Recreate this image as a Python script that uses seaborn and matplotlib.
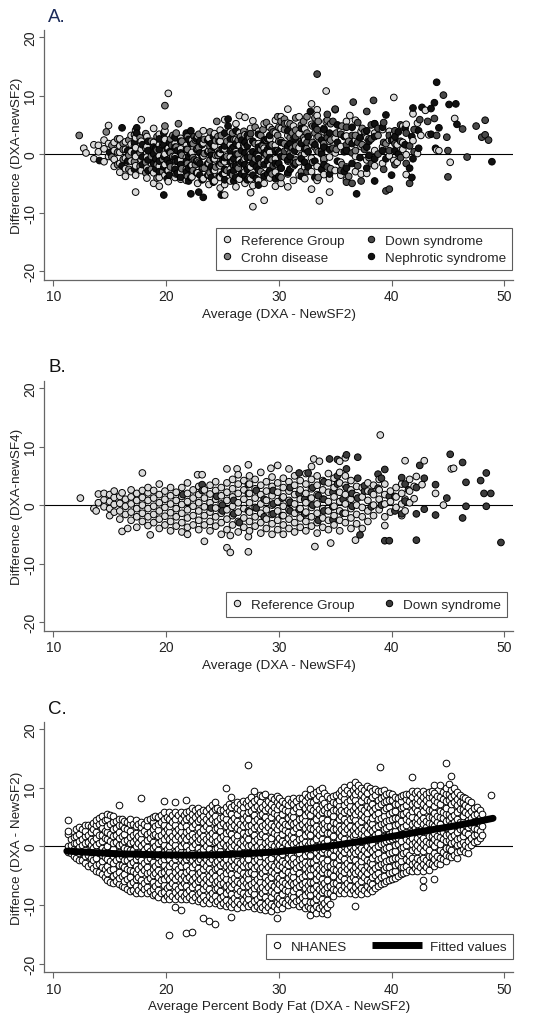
import numpy as np
import pandas as pd
import matplotlib
matplotlib.use("Agg")
import matplotlib.pyplot as plt
from matplotlib.lines import Line2D
from matplotlib.legend_handler import HandlerLine2D
import seaborn as sns

sns.set_theme(style="white")
plt.rcParams['font.family'] = ['Liberation Sans', 'DejaVu Sans']

# ---------------- data ----------------
X_TICKS = [10, 20, 30, 40, 50]
Y_TICKS = [-20, -10, 0, 10, 20]

# Panel A: columns of (average, [differences])
a_reference = [
    (12.7, [1.0]), (12.9, [0.2]), (13.6, [1.6, -0.8]), (14.0, [1.5, 0.4]), (14.5, [-1.3, 0.9, 2.4]),
    (14.9, [4.9, -0.4, 1.8]), (15.4, [-2.1, -0.9, 0.6, 2.0]), (15.9, [-3.1, -1.6, 0.3, 1.4, 2.6]),
    (16.4, [-3.8, -2.5, -0.7, 0.8, 2.1]), (16.9, [-3.0, -1.2, 0.4, 1.7, 3.2]),
    (17.3, [-6.5, -3.6, -2.0, -0.4, 1.1, 2.8, 4.1]), (17.8, [-2.8, -1.0, 0.8, 2.2, 5.9]),
    (18.3, [-4.1, -2.4, -0.5, 1.3, 3.0]), (18.9, [-5.0, -3.2, -1.6, 0.2, 2.0, 4.4]),
    (19.4, [-5.5, -4.0, -2.1, -0.3, 1.6, 3.4]), (19.9, [-3.6, -1.8, 0.0, 2.5, 4.0]),
    (20.2, [10.4, -4.7, -2.8, 1.0]), (20.8, [-4.0, -2.2, -0.4, 1.8, 3.0]),
    (21.3, [-4.3, -3.1, -1.0, 0.9, 2.7]), (21.8, [-4.5, -2.6, -0.6, 1.5, 3.3]),
    (22.3, [-3.9, -1.9, 0.3, 2.4]), (22.8, [-5.0, -3.2, -1.2, 1.0, 3.1]),
    (23.3, [-4.2, -2.4, -0.3, 1.9, 4.0]), (23.8, [-5.2, -3.6, -1.6, 0.6, 2.7]),
    (24.3, [-4.6, -2.8, -0.8, 1.4, 3.5]), (24.8, [-5.8, -4.0, -2.0, 0.1, 2.2, 4.1]),
    (25.2, [-7.0, -5.2, -3.3, -1.3, 0.9, 5.9]), (25.7, [-4.6, -2.6, -0.5, 1.6, 3.8]),
    (26.2, [-5.6, -3.8, -1.8, 0.4, 2.5, 5.2]), (26.5, [6.6, -4.3, -1.0, 1.5, 3.6]),
    (27.0, [6.3, -5.0, -3.0, -0.8, 1.3, 3.3]), (27.5, [-6.6, -4.2, -2.2, 0.0, 2.1, 4.4]),
    (27.7, [-9.0, -5.4, -1.5, 5.7]), (28.2, [-4.5, -2.7, -0.4, 1.8, 3.9]),
    (28.7, [-7.9, -5.0, -3.4, -1.2, 1.0, 5.2]), (29.2, [-4.1, -2.0, 0.3, 2.6, 4.6]),
    (29.7, [-5.5, -3.1, -0.8, 1.5, 3.6, 5.8]), (30.2, [-5.0, -2.4, 0.0, 2.3, 4.4, 6.4]),
    (30.8, [7.7, -5.6, -3.4, -1.2, 1.0, 3.2, 5.3]), (31.3, [-4.5, -2.0, 0.4, 2.6, 4.8]),
    (31.8, [-3.6, -1.3, 1.1, 3.5, 6.4]), (32.3, [-4.2, -2.2, 0.1, 2.4, 4.3]),
    (32.9, [8.6, -6.0, -3.0, -0.7, 1.6, 5.1]), (33.4, [7.6, -4.5, -2.1, 0.6, 2.8, 6.6]),
    (33.6, [-8.0]), (34.0, [-3.5, -1.1, 1.4, 3.8]), (34.2, [10.8, 5.6]),
    (34.5, [-6.5, -4.2, -0.5, 2.2]), (35.0, [-2.8, 0.2, 2.7, 7.6]), (35.5, [-3.6, -1.4, 1.3, 4.0]),
    (36.0, [-4.4, -2.2, 0.8, 3.1, 5.6]), (36.3, [6.6]), (36.8, [-3.0, -0.4, 2.4, 5.8]),
    (37.3, [-3.4, 1.3, 3.9]), (37.8, [-3.3, -1.0, 2.8]), (38.5, [-2.0, 0.6, 3.6, 5.2]),
    (39.2, [-1.6, 1.2, 4.2]), (39.8, [-0.3, 2.4, 3.9]), (40.2, [9.7, -1.1, 3.4]),
    (40.5, [-1.4, 1.6]), (41.0, [0.8, 4.8, 2.0]), (41.3, [-3.5, -0.1, 5.1]), (41.9, [6.9, 2.3]),
    (42.3, [5.3, 0.1]), (42.6, [3.2]), (43.0, [7.5]), (43.3, [3.3]), (44.0, [0.7]),
    (44.2, [0.6]), (45.2, [-1.4]), (45.6, [6.1]),
]
a_crohn = [
    (12.3, [3.2]), (14.7, [3.8]), (15.2, [1.5, -0.5]), (15.7, [2.6, 0.3, -1.8]), (16.2, [1.8, -0.9, 0.8]),
    (16.7, [2.4, -0.2, -2.6]), (17.2, [1.4, -1.3, 3.3]), (17.7, [0.2, 2.8, -2.1]),
    (18.2, [3.5, 1.0, -1.4, -3.2]), (18.7, [2.2, -0.4, -2.6]), (19.2, [3.0, 0.7, -1.8, -4.1]),
    (19.7, [1.6, -0.9, -3.0]), (19.9, [8.3, 4.8]), (20.4, [2.6, 0.2, -2.2]), (20.6, [3.2, -0.4]),
    (20.9, [3.6, 1.2, -1.2, -3.4]), (21.1, [5.2]), (21.4, [2.2, -0.2, -2.5]),
    (21.9, [3.0, 0.8, -1.6, -3.8]), (22.4, [1.8, -0.6, -2.8]), (22.6, [2.4, -1.8]),
    (22.9, [3.4, 1.1, -1.4]), (23.4, [2.5, 0.1, -2.4]), (23.9, [3.8, 1.3, -1.0, -3.2]),
    (24.4, [2.3, -0.2, -2.2]), (24.5, [5.6]), (24.6, [3.0, -0.2]), (24.9, [3.2, 0.8, -1.6]),
    (25.4, [2.2, -0.4, -2.8]), (25.9, [3.6, 1.1, -1.2, -3.6]), (26.4, [2.4, 0.0, -2.4]),
    (26.6, [3.0, -1.6]), (26.9, [3.9, 1.5, -1.0]), (27.4, [2.8, 0.3, -2.0, -4.0]),
    (27.9, [4.6, 1.8, -0.8]), (28.4, [3.2, 0.8, -1.6, -3.0]), (28.6, [4.2, 1.4]),
    (28.9, [5.4, 2.4, 0.0]), (29.4, [4.2, 1.6, -1.0, -3.4]), (29.9, [6.4, 3.2, 0.6, -1.8]),
    (30.0, [4.6, 2.2]), (30.2, [5.6, -4.0]), (30.5, [6.0, 4.2, 1.8, -0.5]),
    (31.0, [5.2, 2.8, 0.2, -2.6]), (31.2, [3.6, 1.0]), (31.5, [6.2, 4.1, 1.4, -1.0]),
    (32.0, [5.0, 2.2, -0.2, -3.0]), (32.2, [5.6, 2.8]), (32.5, [6.4, 3.6, 1.0]),
    (33.0, [4.8, 2.0, -1.4]), (33.2, [6.2, 3.6, 1.2]), (33.5, [5.6, 3.0, 0.4, -4.0]),
    (34.0, [4.4, 1.8, -0.8]), (34.3, [3.2, 5.8]), (34.6, [5.2, 2.4, -2.5]), (35.1, [3.6, 0.8]),
    (35.6, [4.8, -1.8]), (36.2, [2.2, -3.8]), (36.8, [3.2, 0.6]), (37.4, [1.6, 4.4]),
    (38.0, [2.6, -0.6]), (38.8, [3.2]), (39.5, [1.8]), (40.2, [2.4]),
]
a_down = [
    (20.5, [1.5]), (22.5, [3.0, -1.0]), (24.0, [0.5]), (26.0, [2.5, -2.0]), (27.5, [3.5, -0.5]),
    (28.5, [1.5]), (29.5, [-2.0, 3.8]), (30.5, [0.5, 5.2]), (31.5, [-1.5, 3.0]), (32.5, [2.0, -3.0]),
    (33.4, [13.7, 4.2]), (33.8, [0.5]), (34.3, [-2.2, 2.8, 6.8]), (34.8, [5.6, 1.0]), (35.0, [7.7]),
    (35.5, [-2.8, 3.4]), (36.0, [1.6, 4.6, -4.8]), (36.5, [-5.0, 0.2, 3.2]), (36.6, [8.9]),
    (37.0, [-2.0, 2.0, 5.4]), (37.3, [-4.6]), (37.6, [0.8, 3.8]), (37.8, [7.3]),
    (38.2, [-1.6, 2.6, 5.0]), (38.4, [9.2]), (38.8, [0.0, 4.4]), (39.3, [-2.6, 2.0, 5.4]),
    (39.5, [-6.3]), (39.8, [-6.0, 3.2, 0.6]), (40.3, [-1.8, 1.8, 4.0]), (40.8, [2.2, -0.6, 5.0]),
    (41.3, [3.6, -1.6]), (41.6, [-5.0, 1.4]), (42.0, [0.4, 4.2]), (42.5, [5.9]), (43.2, [5.6]),
    (43.8, [6.1]), (44.0, [3.2]), (44.6, [10.1]), (44.9, [2.9]), (45.0, [-3.9, 0.6]), (46.3, [4.3]),
    (46.7, [-0.5]), (47.5, [4.8]), (48.0, [2.9]), (48.3, [5.8, 3.3]), (48.6, [2.4]),
]
a_nephrotic = [
    (14.1, [-1.1]), (15.0, [0.3]), (16.1, [4.5, -2.0]), (16.6, [-1.2, 0.6]), (17.2, [-2.6, 0.2, 2.0]),
    (17.4, [4.5, 3.6]), (17.9, [-1.8, -0.5, 1.6]), (18.4, [-2.8, -1.0, 0.6, 2.2]),
    (18.9, [-1.6, 0.0, 1.2]), (19.1, [-2.5, -0.8, 1.0]), (19.4, [-3.0, -1.2, 0.8, 2.6]),
    (19.8, [-7.0, -2.2, -0.4, 1.6, 3.6]), (20.1, [-4.2, -2.8, -1.0, 0.9]),
    (20.3, [-3.6, -1.6, 0.4, 2.0]), (20.8, [-2.6, -0.8, 1.2, 2.8]), (21.0, [-3.3, -1.2, 0.6]),
    (21.3, [-4.0, -1.8, 0.2, 2.2]), (21.8, [-3.0, -1.2, 0.8, 3.6]), (22.0, [-4.6, -2.4, -0.4, 2.5]),
    (22.2, [-6.8, -4.0, -2.0, 0.0, 1.8, 4.0]), (22.7, [-3.2, -1.2, 0.8, 2.6]), (22.9, [-6.5]),
    (23.0, [-3.6, -1.6, 0.2, 2.2]), (23.2, [-4.4, -2.4, -0.4, 1.6]), (23.3, [-7.4]),
    (23.7, [-3.6, -1.6, 0.4, 2.4]), (24.0, [-4.0, -2.2, -0.2, 1.8]),
    (24.2, [-4.8, -2.8, -0.8, 1.2, 3.0]), (24.7, [-3.8, -1.8, 0.2, 2.2]), (24.9, [-7.0]),
    (25.0, [-3.4, -1.0, 0.9]), (25.2, [-4.4, -2.6, -0.6, 1.4, 3.6]), (25.5, [6.0, 4.8]),
    (25.7, [-3.2, -1.4, 0.6, 2.6]), (26.0, [-4.6, -2.8, -0.8, 1.2]),
    (26.2, [-4.0, -2.0, 0.0, 1.8, 4.0]), (26.7, [-3.4, -1.4, 0.6, 2.4]),
    (27.0, [-3.8, -1.8, 0.2, 2.0]), (27.2, [-4.4, -2.6, -0.6, 1.4, 3.2]),
    (27.7, [-3.6, -1.6, 0.4, 2.2]), (28.0, [-4.2, -2.2, 0.0]), (28.2, [-5.3, -2.8, -0.8, 1.2, 3.4]),
    (28.7, [-3.8, -1.8, 0.2, 2.4]), (29.0, [-3.4, -1.2, 0.8, 2.6]), (29.2, [-2.8, -0.6, 1.4, 3.2]),
    (29.7, [-4.2, -1.6, 0.6]), (30.0, [-3.8, -1.6, 0.4]), (30.2, [-2.4, -0.4, 2.0]),
    (30.8, [-3.2, -1.0, 1.4, 4.0]), (31.0, [-2.6, -0.4, 1.8]), (31.4, [-1.8, 0.6, 2.6]),
    (32.0, [-3.8, -0.8, 1.8, 4.4]), (32.3, [-1.4, 0.9]), (32.6, [-2.2, 0.4, 3.0]), (32.8, [7.3]),
    (33.2, [-4.0, -1.2, 1.6, 4.8]), (33.8, [-2.6, 0.0, 2.4]), (34.0, [-1.8, 1.2, 4.2]),
    (34.5, [-3.4, 0.8, 3.6]), (35.2, [-1.2, 2.0, 5.0]), (35.8, [-3.0, 0.4, 3.0]),
    (36.0, [-2.4, 0.6]), (36.5, [-1.6, 1.8, 4.6]), (36.9, [-6.8]), (37.2, [-0.6, 2.8]),
    (37.8, [-2.4, 1.2, 4.0]), (38.0, [-0.2, 2.2]), (38.5, [-4.6, -0.8, 3.0, 5.2]),
    (39.2, [0.6, 4.6]), (39.5, [-0.8, 6.7]), (40.0, [-3.6, 2.4]), (40.3, [0.6, 3.0]),
    (40.6, [0.0, 3.8]), (41.2, [1.6, 4.4]), (41.6, [-2.4]), (41.8, [-4.0, 3.0]),
    (41.9, [-0.8, 7.9]), (42.4, [4.0, 1.0]), (42.7, [8.0]), (43.5, [3.4, 7.8]), (43.8, [8.8]),
    (43.9, [1.0]), (44.0, [12.3]), (44.2, [4.5]), (45.1, [8.5]), (45.7, [8.6]), (45.8, [5.1]),
    (48.9, [-1.3]),
]

# Panel B
b_reference = [
    (12.4, [1.2]), (13.6, [-0.6]), (13.8, [-1.0]), (14.0, [0.4, 1.9]), (14.5, [-0.3, 0.9, 2.0]),
    (15.0, [-1.8, -0.6, 0.6, 1.8]), (15.4, [-1.2, 0.1, 1.3, 2.4]), (15.9, [-2.4, -1.0, 0.3, 1.5]),
    (16.1, [-4.5, 2.1]), (16.4, [-1.6, -0.2, 1.0]), (16.6, [-4.0]),
    (16.9, [-2.6, -1.2, 0.2, 1.4, 2.6]), (17.4, [-3.8, -2.0, -0.6, 0.8, 2.0]),
    (17.9, [5.5, -2.8, -1.4, 0.0, 1.3, 2.5]), (18.4, [-3.5, -2.0, -0.6, 0.8, 2.1, 3.0]),
    (18.6, [-5.1]), (18.9, [-3.0, -1.6, -0.2, 1.2, 2.5]), (19.4, [-4.0, -2.4, -1.0, 0.4, 1.8, 3.6]),
    (19.9, [-3.4, -1.9, -0.4, 1.0, 2.4]), (20.4, [-4.4, -2.8, -1.3, 0.2, 1.6, 3.0]),
    (20.9, [-3.6, -2.0, -0.6, 0.8, 2.2]), (21.4, [-4.6, -3.0, -1.4, 0.1, 1.5, 3.0]),
    (21.9, [-5.0, -3.8, -2.2, -0.8, 0.6, 2.0, 3.8]), (22.4, [-3.4, -1.8, -0.2, 1.2, 2.6]),
    (22.8, [5.2]), (22.9, [-4.2, -2.6, -1.0, 0.4, 1.8, 3.2]), (23.2, [5.2]),
    (23.4, [-6.2, -3.4, -1.8, -0.3, 1.2, 2.6]), (23.9, [-4.4, -2.8, -1.2, 0.4, 1.9, 3.4]),
    (24.4, [-3.6, -2.0, -0.5, 1.0, 2.5, 4.0]), (24.9, [-5.0, -3.0, -1.4, 0.2, 1.6, 3.0]),
    (25.4, [-7.3, -4.2, -2.4, -0.8, 0.8, 2.2, 3.8, 6.2]), (25.7, [-8.1, -5.2]),
    (25.9, [-3.4, -1.8, -0.2, 1.4, 2.8, 4.4]), (26.3, [6.2]),
    (26.4, [-4.6, -2.8, -1.2, 0.4, 2.0, 3.6, 5.2]), (26.9, [-3.8, -2.2, -0.6, 1.0, 2.6, 4.2]),
    (27.3, [-8.0, -5.4, 6.9]), (27.4, [-4.4, -2.8, -1.2, 0.4, 2.0, 3.6, 5.0]),
    (27.9, [-3.6, -2.0, -0.4, 1.2, 2.8, 4.4]), (28.4, [-4.8, -3.0, -1.4, 0.2, 1.8, 3.4, 5.6]),
    (28.9, [-4.0, -2.4, -0.8, 0.8, 2.4, 4.0]), (29.3, [6.3]),
    (29.4, [-5.0, -3.2, -1.6, 0.0, 1.6, 3.2, 4.8]), (29.9, [-4.2, -2.6, -1.0, 0.6, 2.2, 3.8, 6.8]),
    (30.4, [-5.0, -3.4, -1.8, -0.2, 1.4, 3.0, 4.6]), (30.9, [-4.0, -2.4, -0.8, 0.8, 2.4, 4.0, 6.2]),
    (31.4, [-4.6, -3.0, -1.4, 0.2, 1.8, 3.4, 5.0]), (31.9, [-3.8, -2.2, -0.6, 1.0, 2.6, 4.2]),
    (32.4, [-4.4, -2.8, -1.2, 0.4, 2.0, 3.6, 5.4]), (32.9, [-3.6, -2.0, -0.4, 1.2, 2.8, 4.4, 6.6]),
    (33.1, [7.9]), (33.2, [-7.1]), (33.4, [-4.8, -3.0, -1.4, 0.2, 1.8, 3.4, 5.0]), (33.6, [7.5]),
    (33.9, [-3.8, -2.2, -0.6, 1.0, 2.6, 4.2]), (34.4, [-4.2, -2.6, -1.0, 0.6, 2.2, 3.8, 5.4]),
    (34.6, [-6.5]), (34.9, [-3.4, -1.8, -0.2, 1.4, 3.0, 4.6]),
    (35.4, [-4.4, -2.6, -1.0, 0.6, 2.2, 3.8, 5.6, 7.5]), (35.9, [-3.0, -1.4, 0.2, 1.8, 3.4, 5.0, 8.1]),
    (36.4, [-4.0, -2.2, -0.6, 1.0, 2.6, 4.2]), (36.8, [-6.0]), (36.9, [-3.2, -1.6, 0.0, 1.6, 3.2]),
    (37.4, [-4.0, -2.0, -0.4, 1.4, 3.0]), (37.9, [-2.8, -1.0, 0.8, 2.4, 3.8]),
    (38.4, [-1.8, 0.0, 1.8, 3.4]), (38.9, [-0.8, 1.0, 2.6, 4.4]), (39.0, [12.0]),
    (39.4, [-3.5, -2.0, 0.2, 1.8, 3.6]), (39.9, [-1.2, 0.6, 2.4]), (40.4, [-0.4, 1.4, 3.0]),
    (40.9, [-1.8, 0.2, 2.0, 3.6]), (41.2, [7.6, -1.0, 1.0]), (41.6, [0.4, 2.4, 4.4]),
    (42.0, [1.1, 3.2]), (42.2, [4.9]), (42.7, [3.5]), (42.9, [7.6]), (43.9, [2.0]), (44.6, [0.0]),
    (45.3, [6.2]), (45.5, [6.3]),
]
b_down = [
    (21.5, [1.8]), (23.2, [3.5, 2.5]), (24.0, [-0.5]), (24.5, [1.5]), (25.0, [0.0, -1.0]),
    (26.0, [0.8, -1.5]), (26.5, [-3.0]), (27.3, [3.5, 2.0, -1.0]), (28.0, [2.5, -0.5]),
    (28.7, [1.0, -2.0]), (29.5, [2.5, 0.2, -1.5]), (30.3, [1.2, -1.8]), (31.0, [3.0, 0.5, -1.0]),
    (31.8, [2.0, -0.8, 5.5]), (32.3, [1.0, -1.5]), (32.6, [5.5]), (33.0, [3.0, 0.0]),
    (33.5, [1.6, -2.6]), (34.0, [4.0, 1.0, -1.0]), (34.5, [7.9]), (34.8, [2.2, -0.3, -2.5]),
    (35.2, [7.8, 5.0, 3.6]), (35.7, [1.0, -1.4]), (36.0, [8.6, 6.2, 3.0]), (36.5, [-0.2, 2.0]),
    (37.0, [8.2, 4.6, 1.2]), (37.2, [-5.1]), (37.6, [2.4, 3.3]), (38.2, [2.2, -0.3]),
    (38.8, [5.3, 2.9]), (39.1, [0.0, 4.6]), (39.4, [6.1, -6.1]), (39.8, [-6.1, 1.5]),
    (40.3, [1.5, -1.0]), (40.9, [4.7, -1.5]), (41.2, [3.6, 0.7]), (41.5, [2.6]),
    (42.2, [-1.5, -6.0, 3.0]), (42.5, [6.8]), (42.9, [4.6, -0.7]), (43.9, [3.5, -1.7]),
    (44.9, [1.2]), (45.2, [8.7]), (46.3, [7.3, -2.2]), (46.6, [-0.2, 3.9]), (47.9, [4.2]),
    (48.2, [2.0]), (48.4, [-0.2, 5.5]), (48.8, [2.0]), (49.7, [-6.4]),
]

# Panel C: NHANES (main columns)
c_nhanes = [
    (11.3, [-0.9, 0.0, 2.1, 2.6, 4.5]), (11.8, [-1.6, -0.5, 0.6, 1.6]),
    (12.3, [-2.4, -1.2, -0.1, 1.0, 2.2, 3.3]), (12.8, [-2.8, -1.7, -0.6, 0.6, 1.7, 2.7, 3.6]),
    (13.3, [-3.0, -2.0, -0.9, 0.2, 1.3, 2.5, 3.5]),
    (13.8, [-4.2, -3.1, -2.0, -0.8, 0.3, 1.4, 2.5, 3.6, 4.5]),
    (14.3, [-4.8, -3.6, -2.5, -1.4, -0.3, 0.9, 2.0, 3.1, 4.2, 5.2]),
    (14.8, [-5.7, -4.5, -3.3, -2.2, -1.0, 0.1, 1.2, 2.4, 3.5, 4.6, 5.6]),
    (15.3, [-6.3, -5.1, -3.9, -2.8, -1.7, -0.5, 0.6, 1.8, 2.9, 4.1, 5.2]),
    (15.8, [-6.5, -5.4, -4.3, -3.1, -2.0, -0.9, 0.2, 1.4, 2.5, 3.6, 4.7, 7.1]),
    (16.3, [-7.0, -5.9, -4.7, -3.6, -2.4, -1.3, -0.2, 0.9, 2.1, 3.2, 4.4]),
    (16.8, [-7.6, -6.4, -5.3, -4.1, -3.0, -1.8, -0.7, 0.5, 1.6, 2.7, 3.8, 4.7]),
    (17.3, [-7.9, -6.8, -5.6, -4.5, -3.3, -2.2, -1.1, 0.1, 1.2, 2.3, 3.4, 4.5]),
    (17.8, [-7.9, -6.8, -5.7, -4.5, -3.4, -2.3, -1.1, 0.0, 1.2, 2.3, 3.3, 4.1, 8.2]),
    (18.3, [-8.0, -6.9, -5.8, -4.6, -3.5, -2.4, -1.2, -0.1, 1.1, 2.2, 3.4, 4.5]),
    (18.8, [-8.3, -7.2, -6.0, -4.9, -3.8, -2.6, -1.5, -0.3, 0.8, 1.9, 3.0, 4.1, 5.0]),
    (19.3, [-8.6, -7.4, -6.3, -5.2, -4.0, -2.9, -1.8, -0.6, 0.5, 1.7, 2.8, 3.9, 5.1]),
    (19.8, [-8.9, -7.8, -6.6, -5.5, -4.3, -3.2, -2.1, -0.9, 0.2, 1.3, 2.5, 3.6, 4.7, 5.8, 7.7]),
    (20.3, [-15.2, -9.0, -7.9, -6.7, -5.6, -4.4, -3.3, -2.2, -1.0, 0.1, 1.3, 2.4, 3.5, 4.7, 5.8]),
    (20.8, [-10.3, -9.0, -7.8, -6.7, -5.5, -4.4, -3.3, -2.1, -1.0, 0.2, 1.3, 2.4, 3.6, 4.7, 5.8, 7.6]),
    (21.3, [-10.8, -9.0, -7.9, -6.7, -5.6, -4.5, -3.3, -2.2, -1.0, 0.1, 1.2, 2.4, 3.5, 4.7, 5.9]),
    (21.8, [-14.8, -9.0, -7.9, -6.7, -5.6, -4.4, -3.3, -2.2, -1.0, 0.1, 1.3, 2.4, 3.5, 4.7, 5.8, 8.0]),
    (22.3, [-14.6, -9.2, -8.1, -6.9, -5.8, -4.6, -3.5, -2.4, -1.2, -0.1, 1.1, 2.2, 3.3, 4.5, 5.6, 6.5]),
    (22.8, [-9.4, -8.2, -7.1, -5.9, -4.8, -3.7, -2.5, -1.4, -0.2, 0.9, 2.0, 3.2, 4.3, 5.5, 6.5]),
    (23.3, [-12.3, -9.6, -8.5, -7.3, -6.2, -5.0, -3.9, -2.8, -1.6, -0.5, 0.7, 1.8, 2.9, 4.1, 5.2, 6.3]),
    (23.8, [-12.8, -9.6, -8.4, -7.3, -6.1, -5.0, -3.9, -2.7, -1.6, -0.4, 0.7, 1.8, 3.0, 4.1, 5.3, 6.5]),
    (24.3, [-13.3, -9.6, -8.5, -7.3, -6.2, -5.0, -3.9, -2.8, -1.6, -0.5, 0.7, 1.8, 2.9, 4.1, 5.2, 6.4, 7.6]),
    (24.8, [-10.0, -8.8, -7.7, -6.5, -5.4, -4.3, -3.1, -2.0, -0.8, 0.3, 1.4, 2.6, 3.7, 4.9, 6.2]),
    (25.3, [-10.2, -9.1, -7.9, -6.8, -5.6, -4.5, -3.4, -2.2, -1.1, 0.1, 1.2, 2.3, 3.5, 4.6, 5.7, 6.8, 9.9]),
    (25.8, [-12.1, -10.4, -9.3, -8.1, -7.0, -5.8, -4.7, -3.6, -2.4, -1.3, -0.1, 1.0, 2.1, 3.3, 4.4, 5.6, 6.7, 8.4]),
    (26.3, [-10.5, -9.4, -8.2, -7.1, -5.9, -4.8, -3.7, -2.5, -1.4, -0.2, 0.9, 2.0, 3.2, 4.3, 5.5, 6.6, 7.6]),
    (26.8, [-10.3, -9.1, -8.0, -6.8, -5.7, -4.6, -3.4, -2.3, -1.1, 0.0, 1.1, 2.3, 3.4, 4.6, 5.7, 6.8, 7.8]),
    (27.3, [-10.2, -9.0, -7.9, -6.8, -5.6, -4.5, -3.3, -2.2, -1.1, 0.1, 1.2, 2.4, 3.5, 4.6, 5.8, 6.9, 8.0, 13.9]),
    (27.8, [-10.5, -9.4, -8.2, -7.1, -6.0, -4.8, -3.7, -2.5, -1.4, -0.3, 0.9, 2.0, 3.2, 4.3, 5.4, 6.6, 7.7, 9.4]),
    (28.3, [-10.7, -9.6, -8.4, -7.3, -6.1, -5.0, -3.9, -2.7, -1.6, -0.4, 0.7, 1.8, 3.0, 4.1, 5.3, 6.4, 7.5, 8.7]),
    (28.8, [-10.9, -9.8, -8.6, -7.5, -6.3, -5.2, -4.1, -2.9, -1.8, -0.6, 0.5, 1.6, 2.8, 3.9, 5.1, 6.2, 7.3, 8.9]),
    (29.3, [-11.0, -9.9, -8.7, -7.6, -6.4, -5.3, -4.2, -3.0, -1.9, -0.7, 0.4, 1.5, 2.7, 3.8, 5.0, 6.1, 7.2, 8.4]),
    (29.8, [-12.2, -10.7, -9.5, -8.4, -7.2, -6.1, -5.0, -3.8, -2.7, -1.5, -0.4, 0.7, 1.9, 3.0, 4.2, 5.3, 6.4, 7.6, 8.6]),
    (30.3, [-10.5, -9.3, -8.2, -7.0, -5.9, -4.8, -3.6, -2.5, -1.3, -0.2, 0.9, 2.1, 3.2, 4.4, 5.5, 6.6, 7.8]),
    (30.8, [-10.0, -8.9, -7.7, -6.6, -5.4, -4.3, -3.2, -2.0, -0.9, 0.3, 1.4, 2.5, 3.7, 4.8, 6.0, 7.1, 8.1]),
    (31.3, [-9.9, -8.7, -7.6, -6.4, -5.3, -4.2, -3.0, -1.9, -0.7, 0.4, 1.5, 2.7, 3.8, 5.0, 6.1, 7.2, 8.3]),
    (31.8, [-10.2, -9.1, -7.9, -6.8, -5.6, -4.5, -3.4, -2.2, -1.1, 0.1, 1.2, 2.3, 3.5, 4.6, 5.8, 6.9, 8.3]),
    (32.3, [-10.6, -9.4, -8.3, -7.1, -6.0, -4.9, -3.7, -2.6, -1.4, -0.3, 0.8, 2.0, 3.1, 4.3, 5.4, 6.5, 7.7, 8.9]),
    (32.8, [-11.8, -10.6, -9.5, -8.3, -7.2, -6.1, -4.9, -3.8, -2.6, -1.5, -0.4, 0.8, 1.9, 3.1, 4.2, 5.3, 6.5, 7.6, 8.7, 9.8]),
    (33.3, [-11.3, -10.2, -9.0, -7.9, -6.7, -5.6, -4.5, -3.3, -2.2, -1.0, 0.1, 1.2, 2.4, 3.5, 4.7, 5.8, 6.9, 8.1, 9.3]),
    (33.8, [-11.3, -10.1, -9.0, -7.8, -6.7, -5.6, -4.4, -3.3, -2.1, -1.0, 0.1, 1.3, 2.4, 3.6, 4.7, 5.8, 7.0, 8.1, 10.0]),
    (34.3, [-11.5, -10.3, -9.1, -8.0, -6.9, -5.7, -4.6, -3.4, -2.3, -1.2, 0.0, 1.1, 2.3, 3.4, 4.5, 5.7, 6.8, 8.6]),
    (34.8, [-8.5, -7.3, -6.2, -5.1, -3.9, -2.8, -1.6, -0.5, 0.6, 1.8, 2.9, 4.1, 5.2, 6.3, 7.5, 8.6]),
    (35.3, [-7.9, -6.8, -5.6, -4.5, -3.3, -2.2, -1.1, 0.1, 1.2, 2.4, 3.5, 4.6, 5.8, 6.9, 8.0, 9.2]),
    (35.8, [-7.9, -6.7, -5.6, -4.4, -3.3, -2.2, -1.0, 0.1, 1.3, 2.4, 3.5, 4.7, 5.8, 7.0, 8.1, 9.2, 10.2]),
    (36.3, [-7.9, -6.8, -5.6, -4.5, -3.4, -2.2, -1.1, 0.1, 1.2, 2.3, 3.5, 4.6, 5.8, 6.9, 8.0, 9.2, 10.4]),
    (36.8, [-10.1, -8.1, -6.9, -5.8, -4.6, -3.5, -2.4, -1.2, -0.1, 1.1, 2.2, 3.3, 4.5, 5.6, 6.8, 7.9, 9.0, 10.2, 11.0]),
    (37.3, [-8.2, -7.1, -5.9, -4.8, -3.6, -2.5, -1.4, -0.2, 0.9, 2.1, 3.2, 4.3, 5.5, 6.6, 7.8, 8.9, 10.0]),
    (37.8, [-8.0, -6.8, -5.7, -4.5, -3.4, -2.3, -1.1, 0.0, 1.2, 2.3, 3.4, 4.6, 5.7, 6.9, 8.0, 9.1, 10.3]),
    (38.3, [-7.6, -6.5, -5.3, -4.2, -3.0, -1.9, -0.8, 0.4, 1.5, 2.7, 3.8, 4.9, 6.1, 7.2, 8.4, 9.5]),
    (38.8, [-6.8, -5.7, -4.5, -3.4, -2.2, -1.1, 0.0, 1.2, 2.3, 3.5, 4.6, 5.7, 6.9, 8.0, 9.4]),
    (39.0, [13.6]),
    (39.3, [-6.2, -5.1, -3.9, -2.8, -1.7, -0.5, 0.6, 1.8, 2.9, 4.0, 5.2, 6.3, 7.5, 8.6, 9.6]),
    (39.8, [-5.8, -4.6, -3.5, -2.3, -1.2, -0.1, 1.1, 2.2, 3.4, 4.5, 5.6, 6.8, 7.9, 9.1]),
    (40.3, [-5.4, -4.2, -3.1, -2.0, -0.8, 0.3, 1.5, 2.6, 3.7, 4.9, 6.0, 7.2, 8.5]),
    (40.8, [-4.8, -3.6, -2.5, -1.4, -0.2, 0.9, 2.1, 3.2, 4.3, 5.5, 6.6, 7.8, 8.6]),
    (41.3, [-4.4, -3.3, -2.1, -1.0, 0.2, 1.3, 2.4, 3.6, 4.7, 5.9, 7.0, 8.1, 9.0]),
    (41.8, [-4.2, -3.0, -1.9, -0.7, 0.4, 1.5, 2.7, 3.8, 5.0, 6.1, 7.2, 8.4, 9.5, 11.8]),
    (42.3, [-4.2, -3.1, -1.9, -0.8, 0.3, 1.5, 2.6, 3.8, 4.9, 6.0, 7.2, 8.3, 9.5]),
    (42.8, [-6.9, -5.8, -4.2, -3.0, -1.9, -0.8, 0.4, 1.5, 2.7, 3.8, 4.9, 6.1, 7.2, 8.4, 9.4]),
    (43.3, [-4.0, -2.9, -1.7, -0.6, 0.6, 1.7, 2.8, 4.0, 5.1, 6.3, 7.4, 8.5, 9.3]),
    (43.8, [-5.6, -3.4, -2.2, -1.1, 0.0, 1.2, 2.3, 3.5, 4.6, 5.7, 6.9, 8.0, 9.1, 10.4]),
    (44.3, [-3.0, -1.9, -0.7, 0.4, 1.6, 2.7, 3.8, 5.0, 6.1, 7.3, 8.4, 10.4]),
    (44.8, [-2.5, -1.4, -0.2, 0.9, 2.0, 3.2, 4.3, 5.5, 6.6, 7.7, 8.9, 10.0, 14.2]),
    (45.3, [-1.8, -0.6, 0.5, 1.6, 2.8, 3.9, 5.1, 6.2, 7.3, 8.5, 9.6, 12.0]),
    (45.8, [-2.0, -1.0, 0.2, 1.3, 2.4, 3.6, 4.7, 5.9, 7.0, 8.1, 9.3]),
    (46.3, [-0.5, 0.7, 1.8, 2.9, 4.1, 5.2, 6.4, 7.5, 8.5]),
    (46.8, [-1.2, -0.1, 1.0, 2.2, 3.3, 4.5, 5.6, 6.7, 7.9]),
    (47.3, [0.8, 1.9, 3.1, 4.2, 5.3, 6.5]),
    (47.8, [1.5, 2.6, 3.8, 4.9, 6.3]),
    (48.8, [8.8]),
]
# Panel C: NHANES (points lying between the main columns)
c_nhanes_mid = [
    (11.55, [-1.2, 0.3, 1.3]), (12.05, [-2.0, -0.7, 0.5, 1.8, 2.9]), (12.55, [-2.3, -1.0, 0.2, 1.3, 2.9]),
    (13.05, [-3.4, -1.4, 0.7, 2.0, 3.7]), (13.55, [-3.7, -2.4, -0.3, 1.0, 2.9, 4.0]),
    (14.05, [-4.4, -3.0, -1.1, 0.6, 2.0, 3.9, 4.8]), (14.55, [-5.2, -3.9, -1.8, -0.6, 1.5, 2.6, 4.5]),
    (15.05, [-6.0, -4.0, -2.5, -0.9, 0.9, 2.2, 3.9, 5.4]), (15.55, [-5.9, -4.7, -2.4, -1.3, 0.7, 2.0, 3.2, 4.4]),
    (16.05, [-6.8, -5.0, -3.2, -1.6, 0.4, 1.7, 3.6, 4.6]), (16.55, [-7.2, -5.6, -3.8, -2.3, -0.4, 1.1, 2.9, 4.2]),
    (17.05, [-7.4, -6.1, -4.2, -2.6, -0.7, 0.7, 2.0, 3.8]), (17.55, [-7.5, -5.2, -3.8, -1.7, 0.6, 1.7, 3.8]),
    (18.05, [-7.3, -6.2, -4.0, -2.9, -0.6, 0.6, 2.7, 3.9]), (18.55, [-7.7, -5.4, -4.3, -2.0, -0.8, 1.5, 2.5, 4.6]),
    (19.05, [-8.1, -6.8, -4.6, -3.4, -1.1, 0.1, 2.2, 3.4, 5.2]), (19.55, [-8.0, -5.8, -4.6, -2.5, -1.3, 0.9, 2.0, 4.2, 5.4]),
    (20.05, [-8.4, -7.1, -5.0, -3.8, -1.6, -0.5, 1.7, 2.9, 5.0]), (20.55, [-8.5, -6.2, -5.0, -2.8, -1.5, 0.7, 1.8, 4.1, 5.3]),
    (21.05, [-8.4, -7.3, -5.1, -3.9, -1.6, -0.4, 1.8, 3.0, 5.3]), (21.55, [-8.5, -6.2, -5.0, -2.7, -1.6, 0.6, 1.8, 4.1, 5.4]),
    (22.05, [-8.6, -7.5, -5.2, -4.0, -1.8, -0.6, 1.7, 2.8, 5.0, 6.0]),
    (22.55, [-8.7, -6.4, -5.3, -3.0, -1.8, 0.4, 1.6, 3.8, 5.0, 6.2]),
    (23.05, [-9.0, -7.8, -5.6, -4.4, -2.2, -1.0, 1.3, 2.4, 4.6, 5.8]),
    (23.55, [-9.1, -6.8, -5.6, -3.4, -2.2, 0.1, 1.2, 3.5, 4.6, 6.0]),
    (24.05, [-9.0, -7.9, -5.6, -4.4, -2.2, -1.1, 1.2, 2.3, 4.6, 5.8, 7.1]),
    (24.55, [-9.3, -7.1, -5.9, -3.7, -2.5, -0.2, 0.9, 3.1, 4.3, 6.5]),
    (25.05, [-9.6, -8.4, -6.2, -5.0, -2.8, -1.7, 0.6, 1.7, 4.0, 5.1, 6.2]),
    (25.55, [-9.8, -7.5, -6.4, -4.1, -3.0, -0.7, 0.4, 2.7, 3.9, 6.1, 7.3]),
    (26.05, [-9.9, -8.8, -6.5, -5.4, -3.1, -2.0, 0.3, 1.5, 3.7, 4.9, 7.1]),
    (26.55, [-9.8, -7.6, -6.3, -4.0, -2.9, -0.6, 0.5, 2.8, 3.9, 6.2, 7.3]),
    (27.05, [-9.6, -8.5, -6.2, -5.1, -2.8, -1.7, 0.6, 1.7, 4.0, 5.2, 7.4]),
    (27.55, [-9.9, -7.7, -6.5, -4.3, -3.1, -0.9, 0.3, 2.6, 3.7, 6.0, 7.2, 8.4]),
    (28.05, [-10.2, -9.0, -6.7, -5.6, -3.3, -2.2, 0.1, 1.2, 3.5, 4.7, 6.9, 8.1]),
    (28.55, [-10.3, -8.0, -6.9, -4.6, -3.5, -1.2, -0.1, 2.2, 3.4, 5.6, 6.8, 8.6]),
    (29.05, [-10.4, -9.3, -7.0, -5.8, -3.6, -2.4, -0.1, 1.0, 3.3, 4.4, 6.6, 7.8]),
    (29.55, [-10.1, -8.0, -6.8, -4.5, -3.4, -1.1, 0.0, 2.3, 3.4, 5.7, 6.8, 8.1]),
    (30.05, [-9.9, -8.8, -6.5, -5.4, -3.1, -1.9, 0.3, 1.5, 3.7, 4.9, 7.1, 8.2]),
    (30.55, [-9.7, -7.5, -6.3, -4.1, -2.9, -0.6, 0.5, 2.8, 3.9, 6.2, 7.4]),
    (31.05, [-9.5, -8.3, -6.1, -4.9, -2.6, -1.5, 0.8, 2.0, 4.2, 5.4, 7.6]),
    (31.55, [-9.4, -7.1, -6.0, -3.7, -2.6, -0.3, 0.8, 3.1, 4.2, 6.5, 7.7]),
    (32.05, [-9.8, -8.7, -6.4, -5.3, -3.0, -1.9, 0.4, 1.5, 3.8, 4.9, 7.2, 8.3]),
    (32.55, [-10.1, -7.8, -6.6, -4.4, -3.2, -0.9, 0.2, 2.5, 3.7, 5.9, 7.1, 8.4]),
    (33.05, [-10.7, -9.5, -7.3, -6.1, -3.9, -2.7, -0.5, 0.7, 2.9, 4.1, 6.3, 7.5, 8.9]),
    (33.55, [-10.6, -8.4, -7.2, -5.0, -3.8, -1.6, -0.4, 1.9, 3.0, 5.3, 6.4, 8.6, 9.6]),
    (34.05, [-10.8, -9.6, -7.4, -6.2, -3.9, -2.8, -0.5, 0.6, 2.9, 4.0, 6.3, 7.4, 9.2]),
    (34.55, [-9.8, -8.0, -6.7, -4.5, -3.3, -1.1, 0.1, 2.3, 3.5, 5.7, 6.9, 8.2]),
    (35.05, [-7.4, -6.2, -4.0, -2.8, -0.6, 0.6, 2.9, 4.0, 6.3, 7.4, 8.8]),
    (35.55, [-7.4, -5.1, -4.0, -1.7, -0.5, 1.8, 2.9, 5.2, 6.3, 8.6, 9.7]),
    (36.05, [-7.3, -6.2, -3.9, -2.8, -0.5, 0.6, 2.9, 4.1, 6.3, 7.5, 9.7]),
    (36.55, [-7.5, -5.2, -4.0, -1.8, -0.6, 1.7, 2.8, 5.1, 6.2, 8.5, 9.6]),
    (37.05, [-7.6, -6.4, -4.2, -3.0, -0.8, 0.4, 2.7, 3.8, 6.1, 7.2, 9.5, 10.5]),
    (37.55, [-7.5, -5.2, -4.1, -1.8, -0.6, 1.7, 2.8, 5.1, 6.3, 8.5, 9.7]),
    (38.05, [-7.2, -6.0, -3.8, -2.6, -0.4, 0.8, 3.0, 4.2, 6.5, 7.7, 9.9]),
    (38.55, [-7.1, -4.9, -3.7, -1.5, -0.3, 2.0, 3.1, 5.4, 6.5, 8.8, 9.8]),
    (39.05, [-6.4, -5.3, -3.0, -1.9, 0.4, 1.5, 3.8, 4.9, 7.2, 8.3, 9.5]),
    (39.55, [-5.9, -3.6, -2.5, -0.2, 0.9, 3.2, 4.3, 6.6, 7.7, 9.0]),
    (40.05, [-5.5, -4.4, -2.1, -1.0, 1.3, 2.4, 4.7, 5.8, 8.0, 8.9]),
    (40.55, [-5.0, -3.0, -1.9, 0.4, 1.5, 3.8, 4.9, 7.2, 8.3]),
    (41.05, [-4.6, -3.5, -1.2, -0.1, 2.2, 3.3, 5.6, 6.7, 8.8]),
    (41.55, [-4.0, -2.5, -1.4, 0.9, 2.0, 4.3, 5.4, 7.7, 8.9]),
    (42.05, [-3.7, -2.6, -0.3, 0.8, 3.1, 4.2, 6.5, 7.6, 9.2]),
    (42.55, [-3.6, -2.4, -0.2, 1.0, 2.1, 4.4, 5.5, 7.8, 8.9]),
    (43.05, [-3.5, -2.4, -0.1, 1.0, 3.3, 4.4, 6.7, 7.9, 9.0]),
    (43.55, [-3.0, -1.6, 0.5, 1.7, 3.9, 5.1, 6.2, 8.5, 9.5]),
    (44.05, [-2.8, -1.6, 0.7, 1.8, 4.1, 5.2, 7.5, 8.6]),
    (44.55, [-2.2, -0.9, 1.3, 2.5, 4.8, 5.9, 8.1, 9.3]),
    (45.05, [-1.6, -0.2, 1.1, 2.2, 4.5, 5.6, 7.9, 9.0, 10.6]),
    (45.55, [-1.4, 0.8, 1.9, 4.2, 5.3, 7.6, 8.7, 9.9]),
    (46.05, [-0.8, 0.4, 1.5, 3.0, 4.1, 6.4, 7.5, 8.8]),
    (46.55, [-0.9, 0.3, 2.5, 3.7, 5.9, 7.0, 8.2]),
    (47.05, [0.3, 1.4, 3.6, 4.8, 6.0, 7.6]),
    (47.55, [1.0, 2.2, 3.0, 4.3, 5.5, 6.8]),
    (48.05, [2.0, 3.5, 5.6]),
]

# Fitted values (quadratic fit line)
fit_x = [11.2, 13.0, 15.0, 17.5, 20.0, 22.5, 25.0, 27.5, 30.0, 32.5, 35.0, 37.5, 40.0, 42.5, 45.0, 47.0, 49.0]
fit_y = [-0.8, -1.0, -1.2, -1.35, -1.45, -1.5, -1.4, -1.2, -0.9, -0.4, 0.2, 0.9, 1.7, 2.5, 3.3, 4.0, 4.8]

A_GROUPS = ["Reference Group", "Crohn disease", "Down syndrome", "Nephrotic syndrome"]
A_COLORS = ["#dadada", "#7f7f7f", "#4a4a4a", "#111111"]
B_GROUPS = ["Reference Group", "Down syndrome"]
B_COLORS = ["#dadada", "#3c3c3c"]


def expand(cols, group):
    xs = [x for x, ys in cols for _ in ys]
    ys_ = [y for _, ys in cols for y in ys]
    return pd.DataFrame({"x": xs, "y": ys_, "group": group})


dfA = pd.concat([expand(a_reference, A_GROUPS[0]), expand(a_crohn, A_GROUPS[1]),
                 expand(a_down, A_GROUPS[2]), expand(a_nephrotic, A_GROUPS[3])], ignore_index=True)
dfA = dfA.sort_values("x", kind="mergesort").reset_index(drop=True)
dfB = pd.concat([expand(b_reference, B_GROUPS[0]), expand(b_down, B_GROUPS[1])], ignore_index=True)
dfB = dfB.sort_values("x", kind="mergesort").reset_index(drop=True)
dfC = pd.concat([expand(c_nhanes, "NHANES"), expand(c_nhanes_mid, "NHANES")], ignore_index=True)
dfC = dfC.sort_values("x", kind="mergesort").reset_index(drop=True)
dfFit = pd.DataFrame({"x": fit_x, "y": fit_y})

# ---------------- figure ----------------
fig = plt.figure(figsize=(5.4, 10.2), dpi=100)
L, W, H = 0.082, 0.868, 0.2451
axA = fig.add_axes([L, 0.7248, W, H])
axB = fig.add_axes([L, 0.3807, W, H])
axC = fig.add_axes([L, 0.0458, W, 0.2457])

SPINE = "#666666"
MS = 23
LW = 0.7


def style(ax, xlabel, ylabel):
    ax.set_xlim(9.2, 50.77)
    ax.set_ylim(-21.5, 21.3)
    ax.set_xticks(X_TICKS)
    ax.set_yticks(Y_TICKS)
    ax.set_xticklabels([str(t) for t in X_TICKS], fontsize=10, color="#222222")
    ax.set_yticklabels([str(t) for t in Y_TICKS], fontsize=10, color="#222222",
                       rotation=90, va="center")
    for s in ["top", "right"]:
        ax.spines[s].set_visible(False)
    for s in ["left", "bottom"]:
        ax.spines[s].set_color(SPINE)
        ax.spines[s].set_linewidth(0.9)
    ax.tick_params(axis="x", which="both", direction="out", length=4, width=0.8,
                   color=SPINE, pad=3, bottom=True)
    ax.tick_params(axis="y", which="both", direction="out", length=3.6, width=0.8,
                   color=SPINE, pad=1.5, left=True)
    ax.axhline(0, color="black", lw=0.8, zorder=1)
    ax.set_xlabel(xlabel, fontsize=9.7, color="#222222", labelpad=3)
    ax.set_ylabel(ylabel, fontsize=9.7, color="#222222")
    ax.yaxis.set_label_coords(-0.045, 0.5)
    ax.grid(False)


# Panel A
sns.scatterplot(data=dfA, x="x", y="y", hue="group", hue_order=A_GROUPS,
                palette=A_COLORS, s=MS, edgecolor="black", linewidth=LW,
                legend=False, ax=axA, zorder=3)
style(axA, "Average (DXA - NewSF2)", "Difference (DXA-newSF2)")
hA = [Line2D([], [], ls="none", marker="o", markersize=4.6, markerfacecolor=c,
             markeredgecolor="black", markeredgewidth=0.7) for c in A_COLORS]
legA = axA.legend(hA, A_GROUPS, ncol=2, loc="lower right", bbox_to_anchor=(0.998, 0.039),
                  borderaxespad=0, frameon=True, fancybox=False, fontsize=9.7,
                  handlelength=0.8, handletextpad=0.6, columnspacing=1.6,
                  labelspacing=0.35, borderpad=0.45)
legA.get_frame().set_edgecolor("#333333")
legA.get_frame().set_linewidth(0.8)

# Panel B
sns.scatterplot(data=dfB, x="x", y="y", hue="group", hue_order=B_GROUPS,
                palette=B_COLORS, s=MS, edgecolor="black", linewidth=LW,
                legend=False, ax=axB, zorder=3)
style(axB, "Average (DXA - NewSF4)", "Difference (DXA-newSF4)")
hB = [Line2D([], [], ls="none", marker="o", markersize=4.6, markerfacecolor=c,
             markeredgecolor="black", markeredgewidth=0.7) for c in B_COLORS]
legB = axB.legend(hB, B_GROUPS, ncol=2, loc="lower right", bbox_to_anchor=(0.987, 0.055),
                  borderaxespad=0, frameon=True, fancybox=False, fontsize=9.7,
                  handlelength=0.8, handletextpad=0.6, columnspacing=2.2, borderpad=0.45)
legB.get_frame().set_edgecolor("#333333")
legB.get_frame().set_linewidth(0.8)

# Panel C
sns.scatterplot(data=dfC, x="x", y="y", s=MS, color="white", edgecolor="black",
                linewidth=LW, legend=False, ax=axC, zorder=3)
sns.lineplot(data=dfFit, x="x", y="y", color="black", lw=5.0, ax=axC, zorder=4,
             legend=False)
style(axC, "Average Percent Body Fat (DXA - NewSF2)", "Diffence (DXA - NewSF2)")


class LongLine(HandlerLine2D):
    def create_artists(self, legend, orig_handle, xdescent, ydescent, width, height,
                       fontsize, trans):
        ext = 2.9 * fontsize
        return super().create_artists(legend, orig_handle, xdescent + ext, ydescent,
                                       width + ext, height, fontsize, trans)


hC_pt = Line2D([], [], ls="none", marker="o", markersize=4.6, markerfacecolor="white",
               markeredgecolor="black", markeredgewidth=0.7)
hC_ln = Line2D([], [], color="black", lw=5.0, solid_capstyle="butt")
legC = axC.legend([hC_pt, hC_ln], ["NHANES", "Fitted values"], ncol=2, loc="lower right",
                  bbox_to_anchor=(1.0, 0.053), borderaxespad=0, frameon=True, fancybox=False,
                  fontsize=9.7, handlelength=0.8, handletextpad=0.6, columnspacing=4.8,
                  borderpad=0.45, handler_map={hC_ln: LongLine()})
legC.get_frame().set_edgecolor("#333333")
legC.get_frame().set_linewidth(0.8)

# Panel letters
fig.text(48 / 540, 1 - 17 / 1020, "A.", fontsize=13.5, color="#1c2b5a", va="center", ha="left")
fig.text(48 / 540, 1 - 367 / 1020, "B.", fontsize=13.5, color="#111111", va="center", ha="left")
fig.text(48 / 540, 1 - 710 / 1020, "C.", fontsize=13.5, color="#111111", va="center", ha="left")

fig.savefig("out.png", dpi=100)
